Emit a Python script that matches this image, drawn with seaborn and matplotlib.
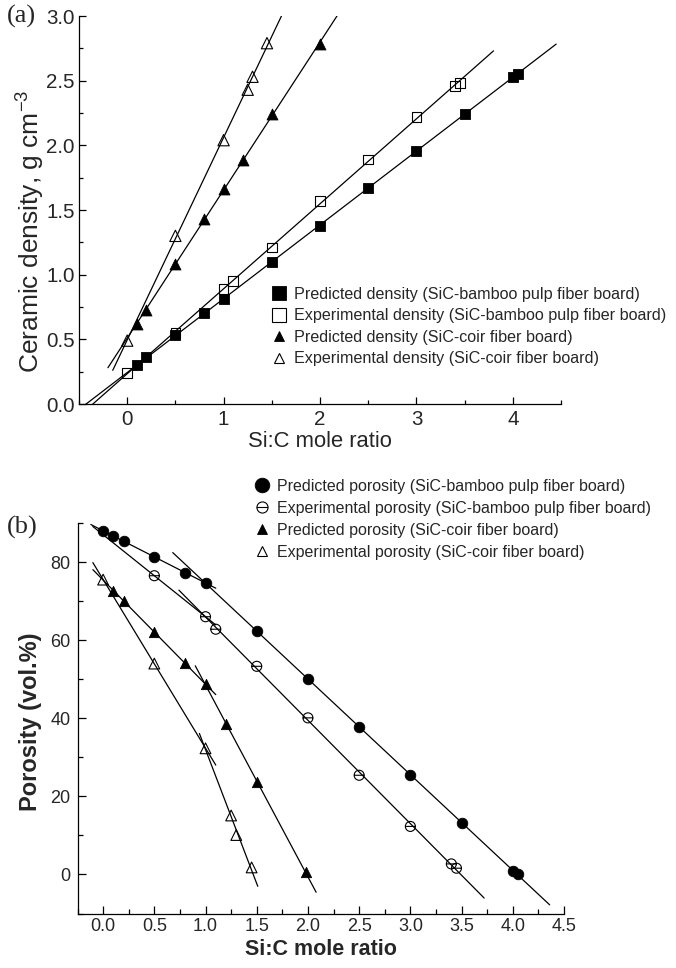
import numpy as np
import matplotlib
matplotlib.use("Agg")
import matplotlib.pyplot as plt
import seaborn as sns
from matplotlib.lines import Line2D
from matplotlib.path import Path
from matplotlib.ticker import MultipleLocator, FormatStrFormatter

# ---------------- (a) ceramic density vs Si:C mole ratio ----------------
dens_bamboo_pred_x = [0.1, 0.2, 0.5, 0.8, 1.0, 1.5, 2.0, 2.5, 3.0, 3.5, 4.0, 4.05]
dens_bamboo_pred_y = [0.30, 0.36, 0.53, 0.70, 0.81, 1.10, 1.38, 1.67, 1.96, 2.24, 2.53, 2.55]
dens_bamboo_exp_x = [0.0, 0.5, 1.0, 1.1, 1.5, 2.0, 2.5, 3.0, 3.4, 3.45]
dens_bamboo_exp_y = [0.24, 0.55, 0.89, 0.95, 1.21, 1.57, 1.89, 2.22, 2.46, 2.48]
dens_coir_pred_x = [0.1, 0.2, 0.5, 0.8, 1.0, 1.2, 1.5, 2.0]
dens_coir_pred_y = [0.62, 0.73, 1.08, 1.43, 1.66, 1.89, 2.24, 2.78]
dens_coir_exp_x = [0.0, 0.5, 1.0, 1.25, 1.3, 1.45]
dens_coir_exp_y = [0.49, 1.30, 2.04, 2.43, 2.53, 2.79]

# x-span of each linear fit line in (a)
dens_bamboo_pred_span = [-0.5, 4.45]
dens_bamboo_exp_span = [-0.5, 3.80]
dens_coir_pred_span = [-0.20, 2.25]
dens_coir_exp_span = [-0.15, 1.65]

dens_labels = [
    "Predicted density (SiC-bamboo pulp fiber board)",
    "Experimental density (SiC-bamboo pulp fiber board)",
    "Predicted density (SiC-coir fiber board)",
    "Experimental density (SiC-coir fiber board)",
]

# ---------------- (b) porosity vs Si:C mole ratio ----------------
por_bamboo_pred_x = [0.0, 0.1, 0.2, 0.5, 0.8, 1.0, 1.5, 2.0, 2.5, 3.0, 3.5, 4.0, 4.05]
por_bamboo_pred_y = [88.0, 86.7, 85.4, 81.2, 77.3, 74.7, 62.3, 50.0, 37.8, 25.4, 13.3, 1.0, 0.0]
por_bamboo_exp_x = [0.5, 1.0, 1.1, 1.5, 2.0, 2.5, 3.0, 3.4, 3.45]
por_bamboo_exp_y = [76.5, 66.0, 62.8, 53.3, 40.1, 25.4, 12.3, 2.7, 1.6]
por_coir_pred_x = [0.1, 0.2, 0.5, 0.8, 1.0, 1.2, 1.5, 1.98]
por_coir_pred_y = [72.7, 70.1, 62.0, 54.1, 48.7, 38.6, 23.7, 0.5]
por_coir_exp_x = [0.0, 0.5, 1.0, 1.25, 1.3, 1.45]
por_coir_exp_y = [75.5, 54.0, 32.3, 15.1, 10.1, 1.8]

# two-stage fits: first stage uses x <= break, second stage x >= break
por_break = 1.0
por_bamboo_pred_spans = [[-0.12, 1.10], [0.68, 4.36]]
por_bamboo_exp_spans = [[-0.10, 1.10], [0.74, 3.72]]
por_coir_pred_spans = [[-0.10, 1.10], [0.90, 2.08]]
por_coir_exp_spans = [[-0.10, 1.10], [0.94, 1.51]]

por_labels = [
    "Predicted porosity (SiC-bamboo pulp fiber board)",
    "Experimental porosity (SiC-bamboo pulp fiber board)",
    "Predicted porosity (SiC-coir fiber board)",
    "Experimental porosity (SiC-coir fiber board)",
]

# ---------------- styling ----------------
sns.set_theme(style="ticks")
plt.rcParams["font.family"] = ["Liberation Sans", "DejaVu Sans"]
plt.rcParams["mathtext.fontset"] = "custom"
plt.rcParams["mathtext.rm"] = "Liberation Sans"
plt.rcParams["axes.linewidth"] = 0.9
plt.rcParams["xtick.direction"] = "in"
plt.rcParams["ytick.direction"] = "in"

# circle with a horizontal bar
theta_marker = Path.make_compound_path(
    Path.unit_circle(),
    Path([[-1.0, 0.0], [1.0, 0.0]], [Path.MOVETO, Path.LINETO]),
)

fig = plt.figure(figsize=(6.76, 9.68), dpi=100)
W, H = 676.0, 968.0
ax_a = fig.add_axes([79 / W, 1 - 404 / H, (561 - 79) / W, (404 - 16) / H])
ax_b = fig.add_axes([77.5 / W, 1 - 913.5 / H, (564 - 77.5) / W, (913.5 - 523) / H])

LW = 0.9


def fit_line(ax, xs, ys, span):
    k, b = np.polyfit(xs, ys, 1)
    gx = np.array(span)
    sns.lineplot(x=gx, y=k * gx + b, ax=ax, color="black", lw=LW,
                 legend=False, zorder=2)


def points(ax, xs, ys, marker, filled, s):
    if filled:
        sns.scatterplot(x=xs, y=ys, ax=ax, marker=marker, s=s, color="black",
                        edgecolor="black", linewidth=0.6, zorder=3, legend=False)
    else:
        sns.scatterplot(x=xs, y=ys, ax=ax, marker=marker, s=s, facecolor="none",
                        edgecolor="black", linewidth=0.8, zorder=3, legend=False)


# ---- panel (a)
for xs, ys, span in [
    (dens_bamboo_pred_x, dens_bamboo_pred_y, dens_bamboo_pred_span),
    (dens_bamboo_exp_x, dens_bamboo_exp_y, dens_bamboo_exp_span),
    (dens_coir_pred_x, dens_coir_pred_y, dens_coir_pred_span),
    (dens_coir_exp_x, dens_coir_exp_y, dens_coir_exp_span),
]:
    fit_line(ax_a, xs, ys, span)

points(ax_a, dens_bamboo_pred_x, dens_bamboo_pred_y, "s", True, 42)
points(ax_a, dens_bamboo_exp_x, dens_bamboo_exp_y, "s", False, 48)
points(ax_a, dens_coir_pred_x, dens_coir_pred_y, "^", True, 62)
points(ax_a, dens_coir_exp_x, dens_coir_exp_y, "^", False, 66)

ax_a.set_xlim(-0.5, 4.5)
ax_a.set_ylim(0, 3.0)
ax_a.xaxis.set_major_locator(MultipleLocator(1))
ax_a.xaxis.set_minor_locator(MultipleLocator(0.5))
ax_a.yaxis.set_major_locator(MultipleLocator(0.5))
ax_a.yaxis.set_minor_locator(MultipleLocator(0.25))
ax_a.yaxis.set_major_formatter(FormatStrFormatter("%.1f"))
ax_a.tick_params(which="major", length=5, width=0.9, labelsize=14.8, color="black")
ax_a.tick_params(which="minor", length=3, width=0.9, color="black")
ax_a.tick_params(axis="x", which="major", pad=4)
ax_a.tick_params(axis="y", which="major", pad=3)
ax_a.set_xlabel("Si:C mole ratio", fontsize=15.8, labelpad=2)
ax_a.set_ylabel("Ceramic density, g cm$^{\\mathregular{-3}}$", fontsize=19, va="center")
ax_a.yaxis.set_label_coords(-0.103, 0.445)

leg_a = [
    Line2D([], [], ls="none", marker="s", ms=10, mfc="black", mec="black", mew=0.6),
    Line2D([], [], ls="none", marker="s", ms=10, mfc="none", mec="black", mew=0.8),
    Line2D([], [], ls="none", marker="^", ms=7, mfc="black", mec="black", mew=0.6),
    Line2D([], [], ls="none", marker="^", ms=7, mfc="none", mec="black", mew=0.8),
]
ax_a.legend(leg_a, dens_labels, loc="upper left", bbox_to_anchor=(271 / W, 1 - 287 / H),
            bbox_transform=fig.transFigure, frameon=False, fontsize=11.6,
            handlelength=1.0, handletextpad=0.45, labelspacing=0.4, borderpad=0,
            borderaxespad=0)

# ---- panel (b)
for xs, ys, spans in [
    (por_bamboo_pred_x, por_bamboo_pred_y, por_bamboo_pred_spans),
    (por_bamboo_exp_x, por_bamboo_exp_y, por_bamboo_exp_spans),
    (por_coir_pred_x, por_coir_pred_y, por_coir_pred_spans),
    (por_coir_exp_x, por_coir_exp_y, por_coir_exp_spans),
]:
    xa, ya = np.array(xs), np.array(ys)
    lo = xa <= por_break
    hi = xa >= por_break
    fit_line(ax_b, xa[lo], ya[lo], spans[0])
    fit_line(ax_b, xa[hi], ya[hi], spans[1])

points(ax_b, por_bamboo_pred_x, por_bamboo_pred_y, "o", True, 58)
points(ax_b, por_bamboo_exp_x, por_bamboo_exp_y, theta_marker, False, 52)
points(ax_b, por_coir_pred_x, por_coir_pred_y, "^", True, 55)
points(ax_b, por_coir_exp_x, por_coir_exp_y, "^", False, 60)

ax_b.set_xlim(-0.25, 4.5)
ax_b.set_ylim(-10, 90)
ax_b.xaxis.set_major_locator(MultipleLocator(0.5))
ax_b.xaxis.set_minor_locator(MultipleLocator(0.25))
ax_b.xaxis.set_major_formatter(FormatStrFormatter("%.1f"))
ax_b.yaxis.set_major_locator(MultipleLocator(20))
ax_b.yaxis.set_minor_locator(MultipleLocator(10))
ax_b.tick_params(which="major", length=6, width=0.9, labelsize=13, color="black")
ax_b.tick_params(which="minor", length=3.5, width=0.9, color="black")
ax_b.tick_params(axis="x", which="major", pad=3)
ax_b.tick_params(axis="y", which="major", pad=5)
ax_b.set_xlabel("Si:C mole ratio", fontsize=15.5, fontweight="bold", labelpad=3)
ax_b.set_ylabel("Porosity (vol.%)", fontsize=17, fontweight="bold", va="center")
ax_b.yaxis.set_label_coords(-0.097, 0.49)

leg_b = [
    Line2D([], [], ls="none", marker="o", ms=10.5, mfc="black", mec="black", mew=0.6),
    Line2D([], [], ls="none", marker=theta_marker, ms=8, mfc="none", mec="black", mew=0.8),
    Line2D([], [], ls="none", marker="^", ms=7, mfc="black", mec="black", mew=0.6),
    Line2D([], [], ls="none", marker="^", ms=7, mfc="none", mec="black", mew=0.8),
]
ax_b.legend(leg_b, por_labels, loc="upper left", bbox_to_anchor=(254 / W, 1 - 479 / H),
            bbox_transform=fig.transFigure, frameon=False, fontsize=11.55,
            handlelength=1.0, handletextpad=0.45, labelspacing=0.43, borderpad=0,
            borderaxespad=0)

for ax in (ax_a, ax_b):
    sns.despine(ax=ax)
    for sp in ("left", "bottom"):
        ax.spines[sp].set_color("black")
        ax.spines[sp].set_linewidth(LW)

fig.text(7 / W, 1 - 16 / H, "(a)", family=["Liberation Serif"], fontsize=19,
         ha="left", va="center")
fig.text(7 / W, 1 - 527 / H, "(b)", family=["Liberation Serif"], fontsize=19,
         ha="left", va="center")

fig.savefig("out.png", dpi=100)
